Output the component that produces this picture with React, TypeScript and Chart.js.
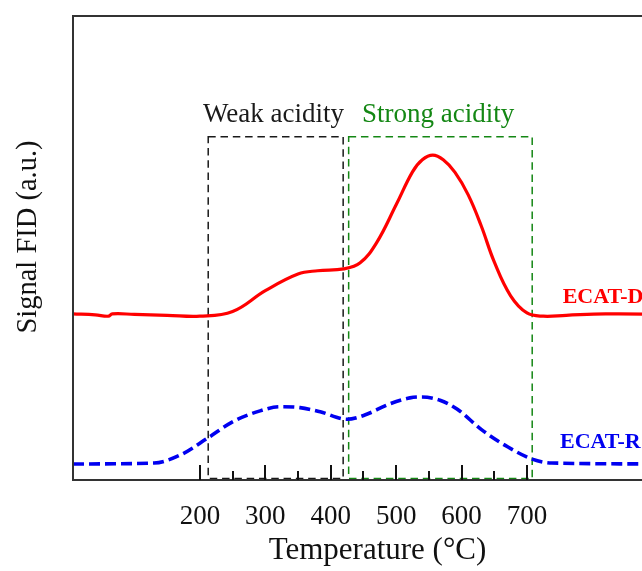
import React, { useEffect, useRef } from 'react';
import { Chart, registerables } from 'chart.js';
Chart.register(...registerables);

// ---- data ----
const X_MIN = 6;
const X_MAX = 937;
const Y_MIN = 0;
const Y_MAX = 100;
const MAJOR_TICKS = [200, 300, 400, 500, 600, 700];
const MINOR_TICKS = [250, 350, 450, 550, 650];

const redX = [6, 40, 60, 66, 100, 150, 200, 250, 300, 350, 380, 420, 445, 470, 500, 525, 540, 556, 572, 590, 610, 630, 650, 675, 700, 725, 760, 820, 937];
const redY = [35.8, 35.6, 35.3, 35.8, 35.7, 35.5, 35.3, 36.3, 40.8, 44.4, 45.1, 45.5, 46.8, 51.1, 59.3, 66.4, 69.0, 70.0, 69.0, 66.3, 61.5, 54.8, 47.0, 39.7, 36.0, 35.3, 35.5, 35.8, 35.7];

const blueX = [6, 130, 170, 212, 252, 292, 322, 353, 384, 425, 452, 490, 521, 539, 567, 593, 631, 671, 708, 738, 937];
const blueY = [3.45, 3.66, 5.39, 9.05, 12.7, 14.9, 15.8, 15.6, 14.7, 13.1, 14.0, 16.4, 17.7, 17.9, 17.2, 15.3, 10.8, 7.1, 4.5, 3.66, 3.45];

const SERIES_NAMES = ['ECAT-D', 'ECAT-R'];
const SERIES_LABEL_X = [754.6, 750.5];
const SERIES_LABEL_Y = [38.1, 6.9];

const REGION_NAMES = ['Weak acidity', 'Strong acidity'];
const REGION_START = [212.7, 427.4];
const REGION_END = [419, 708];
const REGION_TOP = [74, 74];
const REGION_TEXT_X = [204.6, 447.7];
const REGION_TEXT_Y = [77.2, 77.2];

const X_TITLE = 'Temperature (°C)';
const Y_TITLE = 'Signal FID (a.u.)';

// ---- styles ----
const SERIF = "'Liberation Serif', 'Times New Roman', serif";
const RED = '#ff0000';
const BLUE = '#0000f0';
const GREEN = 'rgb(20,135,20)';
const DARK = '#1a1a1a';
const REGION_COLORS = [DARK, GREEN];

const decorPlugin = {
  id: 'decor',
  beforeDatasetsDraw(chart: any) {
    const { ctx, scales } = chart;
    const x = scales.x, y = scales.y;
    ctx.save();
    ctx.lineWidth = 1.5;
    ctx.setLineDash([7.5, 4.8]);
    for (let i = 0; i < REGION_START.length; i++) {
      const x0 = x.getPixelForValue(REGION_START[i]);
      const x1 = x.getPixelForValue(REGION_END[i]);
      const y0 = y.getPixelForValue(REGION_TOP[i]);
      const y1 = y.getPixelForValue(Y_MIN) - 1.5;
      ctx.strokeStyle = REGION_COLORS[i];
      ctx.strokeRect(x0, y0, x1 - x0, y1 - y0);
    }
    ctx.restore();
  },
  afterDatasetsDraw(chart: any) {
    const { ctx, chartArea: a, scales } = chart;
    const x = scales.x, y = scales.y;
    ctx.save();
    // frame
    ctx.setLineDash([]);
    ctx.strokeStyle = '#333';
    ctx.lineWidth = 2;
    ctx.beginPath();
    ctx.moveTo(a.left, a.bottom);
    ctx.lineTo(a.left, a.top);
    ctx.lineTo(a.right, a.top);
    ctx.lineTo(a.right, a.bottom);
    ctx.closePath();
    ctx.stroke();
    // inward ticks
    ctx.strokeStyle = '#111';
    ctx.lineWidth = 2;
    for (const v of MAJOR_TICKS) {
      const px = Math.round(x.getPixelForValue(v));
      ctx.beginPath();
      ctx.moveTo(px, a.bottom);
      ctx.lineTo(px, a.bottom - 15);
      ctx.stroke();
    }
    for (const v of MINOR_TICKS) {
      const px = Math.round(x.getPixelForValue(v));
      ctx.beginPath();
      ctx.moveTo(px, a.bottom);
      ctx.lineTo(px, a.bottom - 9);
      ctx.stroke();
    }
    // region titles
    ctx.font = `27px ${SERIF}`;
    ctx.textAlign = 'left';
    ctx.textBaseline = 'alphabetic';
    for (let i = 0; i < REGION_NAMES.length; i++) {
      ctx.fillStyle = REGION_COLORS[i];
      ctx.fillText(REGION_NAMES[i], x.getPixelForValue(REGION_TEXT_X[i]), y.getPixelForValue(REGION_TEXT_Y[i]));
    }
    // series labels
    ctx.font = `bold 22px ${SERIF}`;
    const cols = [RED, BLUE];
    for (let i = 0; i < SERIES_NAMES.length; i++) {
      ctx.fillStyle = cols[i];
      ctx.fillText(SERIES_NAMES[i], x.getPixelForValue(SERIES_LABEL_X[i]), y.getPixelForValue(SERIES_LABEL_Y[i]));
    }
    // y title
    ctx.save();
    ctx.translate(28.5, (a.top + a.bottom) / 2 - 11);
    ctx.rotate(-Math.PI / 2);
    ctx.font = `28.5px ${SERIF}`;
    ctx.fillStyle = '#111';
    ctx.textAlign = 'center';
    ctx.textBaseline = 'middle';
    ctx.fillText(Y_TITLE, 0, 0);
    ctx.restore();
    ctx.restore();
  },
};

export default function App() {
  const ref = useRef<HTMLCanvasElement | null>(null);
  useEffect(() => {
    if (!ref.current) return;
    const chart = new Chart(ref.current, {
      type: 'line',
      data: {
        datasets: [
          {
            label: SERIES_NAMES[0],
            data: redX.map((v, i) => ({ x: v, y: redY[i] })),
            borderColor: RED,
            borderWidth: 3.2,
            pointRadius: 0,
            tension: 0.4,
            fill: false,
          },
          {
            label: SERIES_NAMES[1],
            data: blueX.map((v, i) => ({ x: v, y: blueY[i] })),
            borderColor: BLUE,
            borderWidth: 3.6,
            borderDash: [11, 5],
            pointRadius: 0,
            cubicInterpolationMode: 'monotone',
            fill: false,
          },
        ],
      },
      options: {
        animation: false,
        responsive: false,
        devicePixelRatio: 1,
        layout: { padding: { left: 73, top: 16, right: 18, bottom: 5 } },
        plugins: { legend: { display: false }, tooltip: { enabled: false } },
        scales: {
          x: {
            type: 'linear',
            min: X_MIN,
            max: X_MAX,
            afterBuildTicks: (axis: any) => {
              axis.ticks = MAJOR_TICKS.map((v) => ({ value: v }));
            },
            grid: { display: false, drawTicks: false },
            border: { display: false },
            ticks: {
              padding: 23,
              color: '#111',
              font: { family: SERIF, size: 27, lineHeight: 1 },
              maxRotation: 0,
              autoSkip: false,
              callback: (v: any) => String(v),
            },
            title: {
              display: true,
              text: X_TITLE,
              color: '#111',
              font: { family: SERIF, size: 31, lineHeight: 1 },
              padding: { top: -18, bottom: 0 },
            },
          },
          y: {
            type: 'linear',
            min: Y_MIN,
            max: Y_MAX,
            display: false,
          },
        },
      },
      plugins: [decorPlugin],
    } as any);
    return () => chart.destroy();
  }, []);
  return (
    <div style={{ position: 'fixed', left: 0, top: 0, width: 642, height: 571, overflow: 'hidden', background: '#fff' }}>
      <canvas ref={ref} width={700} height={571} style={{ display: 'block' }} />
    </div>
  );
}
